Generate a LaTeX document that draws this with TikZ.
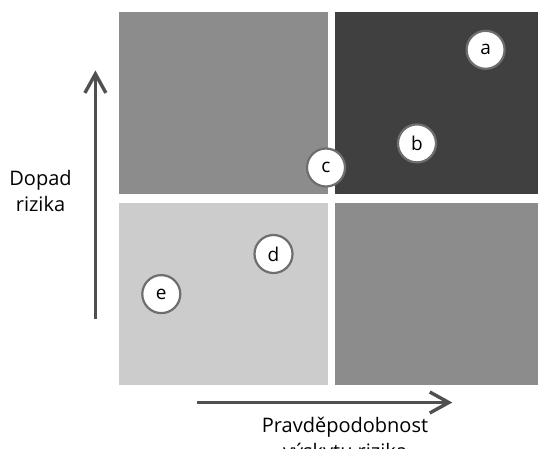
\documentclass[tikz,border=0pt]{standalone}
\usepackage{fontspec}
\setmainfont{Open Sans}
\usetikzlibrary{arrows.meta}
\definecolor{midgray}{HTML}{8C8C8C}
\definecolor{darkq}{HTML}{404040}
\definecolor{lightq}{HTML}{CCCCCC}
\definecolor{arrowgray}{HTML}{505050}
\definecolor{ringgray}{HTML}{6E6E6E}
\tikzset{
  quad/.style={draw=none, inner sep=0pt, outer sep=0pt, anchor=north west},
  risk/.style={circle, draw=ringgray, line width=2.2pt, fill=white, minimum size=38pt, inner sep=0pt, font=\fontsize{19}{19}\selectfont, text=black},
  axis/.style={draw=arrowgray, line width=3.4pt, -{Straight Barb[length=19pt,width=21pt,line width=3.4pt]}},
  lbl/.style={align=center, font=\fontsize{20}{25.5}\selectfont, text=black}
}
\begin{document}
\begin{tikzpicture}[x=1pt,y=-1pt]
\useasboundingbox (0,0) rectangle (538,448);
\fill[white] (0,0) rectangle (538,448);
\node[quad, fill=midgray, minimum width=208.3pt, minimum height=182pt] (q1) at (119.4,12) {};
\node[quad, fill=darkq, minimum width=202.7pt, minimum height=182pt] (q2) at (335.3,12) {};
\node[quad, fill=lightq, minimum width=208.3pt, minimum height=182pt] (q3) at (119.4,202.5) {};
\node[quad, fill=midgray, minimum width=202.7pt, minimum height=182pt] (q4) at (335.3,202.5) {};
\node[risk] (a) at (485.6,49.8) {a};
\node[risk] (b) at (417,143.4) {b};
\node[risk] (c) at (326,167.5) {c};
\node[risk] (d) at (273.5,254) {d};
\node[risk] (e) at (161.3,294.1) {e};
\coordinate (ys) at (95.4,319);
\coordinate (ye) at (95.4,70.4);
\coordinate (xs) at (197.3,402.5);
\coordinate (xe) at (452.3,402.5);
\draw[axis] (ys) -- (ye);
\draw[axis] (xs) -- (xe);
\node[lbl] (ylab) at (40.5,191) {Dopad\\rizika};
\node[lbl, anchor=north] (xlab) at (345,414) {Pravděpodobnost\\výskytu rizika};
\end{tikzpicture}
\end{document}
